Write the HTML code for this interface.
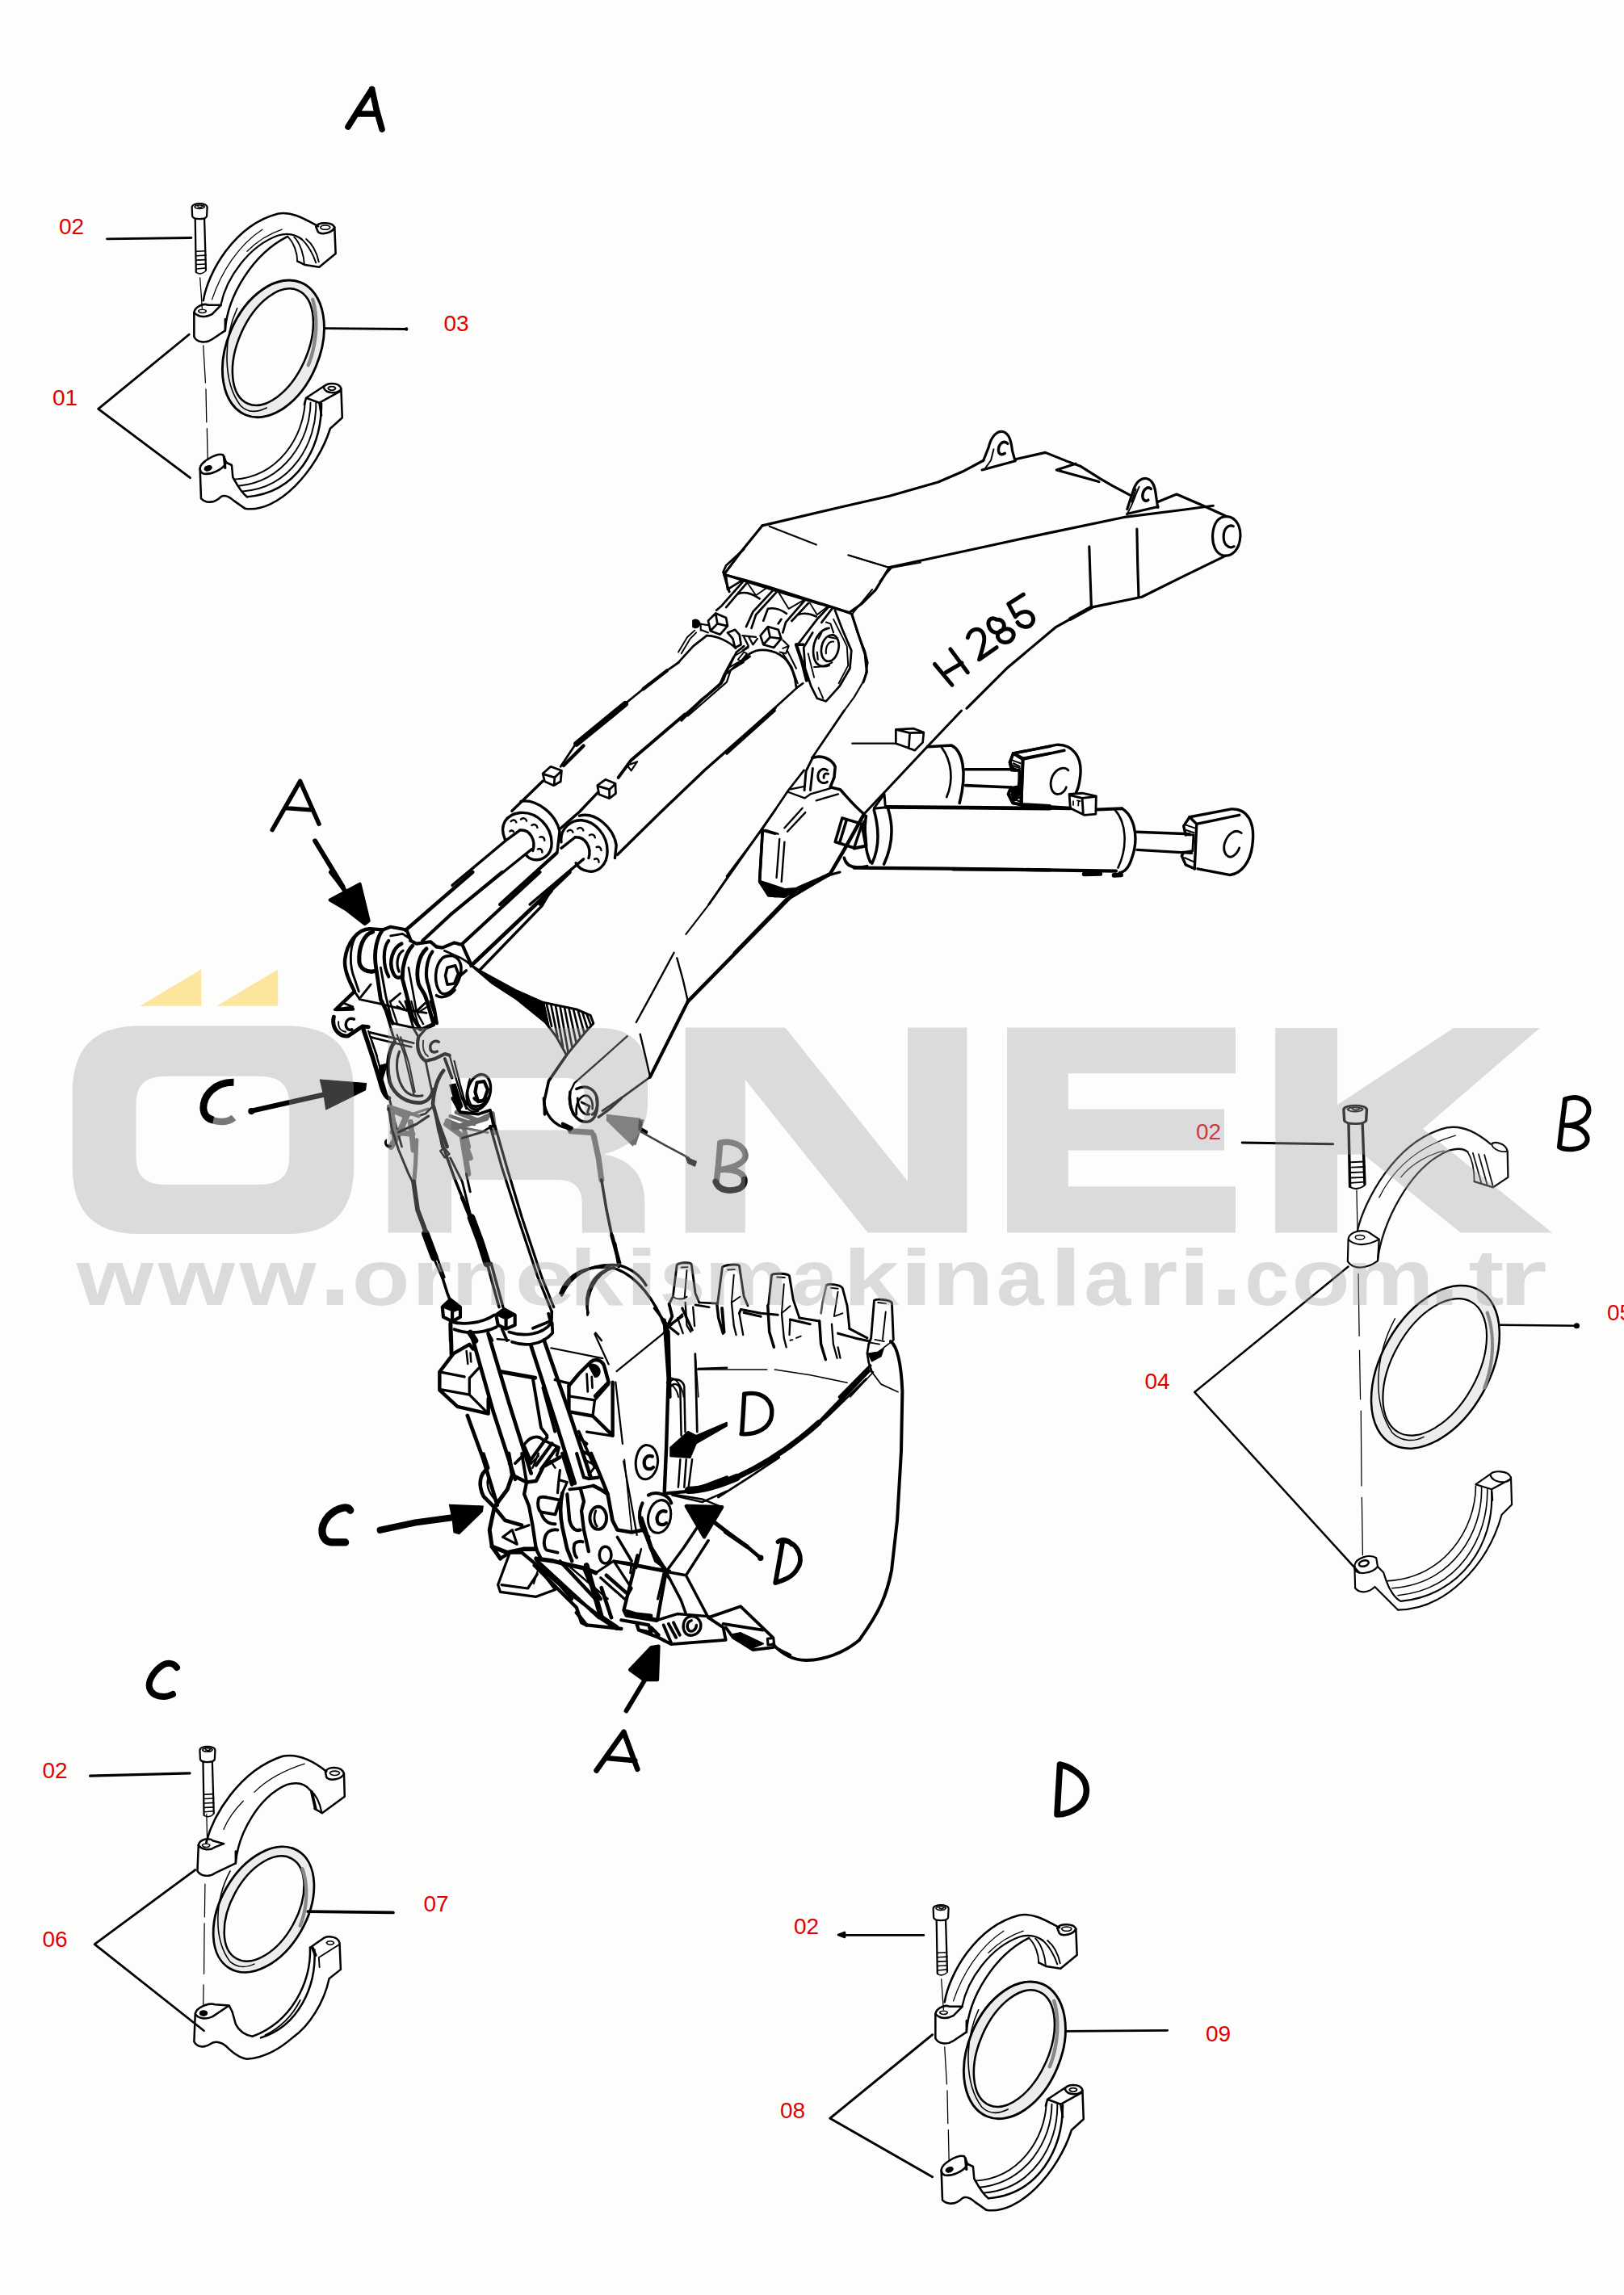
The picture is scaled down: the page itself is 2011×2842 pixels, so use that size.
<!DOCTYPE html>
<html><head><meta charset="utf-8"><title>H285</title>
<style>
html,body{margin:0;padding:0;background:#fdfefc;}
body{width:2011px;height:2842px;overflow:hidden;position:relative;font-family:"Liberation Sans",sans-serif;}
svg{position:absolute;left:0;top:0;display:block}
.ln{fill:none;stroke:#000;stroke-linecap:round;stroke-linejoin:round}
.lbl{font-family:"Liberation Sans",sans-serif;font-size:28px;fill:#e10000}
.wm{font-family:"Liberation Sans",sans-serif;font-weight:bold;font-size:98.7px}
</style></head><body>
<svg width="2011" height="2842" viewBox="0 0 2011 2842">
<rect x="0" y="0" width="2011" height="2842" fill="#fdfefc"/>
<!-- T1: boom top. coords in zoom space of region [860,500]-[1560,900] scale 2.32 -->
<g class="ln" transform="translate(860,500) scale(0.43103)" stroke-width="7.3">
<!-- top face upper edge -->
<path d="M195,350 L420,297 L560,265 L700,225 L770,195 L830,163"/>
<path d="M830,163 L845,125 C852,95 868,78 885,80 C905,84 910,110 913,135 L920,160"/>
<path d="M826,190 L922,164"/>
<path d="M899.6,114.4 C885.6,102.4 871.6,118.4 873.6,136.4 C875.6,148.4 885.6,146.4 891.6,142.4" stroke-width="8"/>
<path d="M859.6,130.4 L851.6,162.4 L831.6,190.4" stroke-width="4.5"/>
<path d="M920,160 L1008,140 L1070,165 L1110,180 L1165,215 L1200,235 L1250,262"/>
<path d="M1095,172 L1040,190 L1162,224"/>
<!-- lug 2 -->
<path d="M1243,303 L1262,245 C1270,222 1285,212 1300,215 C1320,220 1324,245 1326,265 L1331,298"/>
<path d="M1243,316 L1332,296"/>
<path d="M1311.6,244.4 C1299.6,234.4 1285.6,250.4 1287.6,268.4 C1289.6,280.4 1299.6,280.4 1303.6,276.4" stroke-width="8"/>
<path d="M1277.6,238.4 C1265.6,262.4 1261.6,286.4 1241.6,318.4 M1268,245 L1256,282" stroke-width="4.5"/>
<path d="M1331,282 L1385,260 L1455,290 L1525,322"/>
<!-- end boss -->
<path d="M1520,325 C1548,318 1570,345 1568,382 C1566,418 1545,440 1520,436 C1498,432 1486,405 1489,372 C1492,345 1504,329 1520,325 Z"/>
<path d="M1548,352 C1535,345 1520,358 1520,382 C1520,405 1535,418 1550,410" stroke-width="7.3"/>
<!-- top face lower edge -->
<path d="M560,470 L800,418 L1000,375 L1240,325 L1400,305 L1490,293"/>
<!-- side face bottom edge -->
<path d="M1525,437 L1400,498 L1285,555 L1140,585 L1039,641 L896,761 L782,875"/>
<path d="M1140,585 L1080,618" stroke-width="11"/>
<path d="M1134,410 L1137,500 L1140,582"/>
<path d="M1271,360 L1273,460 L1276,555"/>
<!-- left end -->
<path d="M195,350 L130,430 L85,490"/>
<path d="M85,490 L260,545 L445,600"/>
<path d="M560,470 L520,535 L480,575 L445,600"/>
<path d="M215,352 L350,405" stroke-width="4.9"/>
<path d="M442,435 L556,470" stroke-width="4.9"/>
<path d="M85,490 L95,525 L100,540" />
<!-- side plate front edge -->
<path d="M452,605 L470,660 L490,720 L495,770 L485,800"/>
<!-- H 285 text drawn as strokes -->
<g stroke-width="11.5">
<path d="M690,748 L740,808 M735,705 L785,772 M722,772 L768,745"/>
<path d="M785,672 C790,650 812,640 826,655 C840,672 828,700 818,735 L868,700"/>
<path d="M868,620 C850,610 838,625 848,645 C858,662 878,660 885,650 C896,634 884,618 868,620 Z M885,650 C905,640 922,655 915,672 C906,690 880,690 872,672 C868,660 876,652 885,650 Z"/>
<path d="M945,548 L902,575 L922,612 C935,595 960,592 970,608 C980,626 965,645 945,640 C935,638 930,632 928,628"/>
</g>
</g>
<!-- T2: boom front clevis. region [840,680] scale 5.413 -->
<g class="ln" transform="translate(840,680) scale(0.18473)" stroke-width="14.6">
<path d="M440,0 L320,110 L300,155 L315,175"/>
<path d="M315,172 L440,205 L600,250 L850,330 L1040,390 L1165,435"/>
<path d="M1165,435 L1300,270 M1350,215 L1430,125 L1624,90 M1140,40 L1420,125" stroke-width="10.1"/>
<path d="M1165,435 L1200,560 L1250,680 L1270,760 L1250,870 L1180,990 L1100,1100 L1020,1218" stroke-width="11.2"/>
<!-- ribs -->
<path d="M320,180 L330,270 L430,208 M440,210 L290,380 L255,410 M458,228 L320,390"/>
<path d="M462,225 L520,310 L600,255" stroke-width="10.1"/>
<path d="M640,270 L500,420 L455,520 M655,292 L520,440 L490,530"/>
<path d="M400,300 C440,285 480,290 545,332"/>
<path d="M672,290 L740,400 L850,336" stroke-width="10.1"/>
<path d="M850,340 L720,490 L700,560 M872,362 L760,482"/>
<path d="M600,400 C640,390 680,400 725,432 M600,400 L570,480 M690,470 L670,500"/>
<path d="M1010,385 L930,470 L800,640 M1030,400 L960,492"/>
<path d="M882,362 L930,440 L1000,386" stroke-width="10.1"/>
<path d="M800,440 C840,425 880,430 925,452"/>
<!-- lug plate -->
<path d="M1050,410 L1100,540 L1160,680 L1150,800 L1080,920 L990,1020 L930,1000 L890,920 L850,800 L840,660 L900,560"/>
<path d="M1040,470 L1130,650 L1138,780 L1075,900" stroke-width="10.1"/>
<path d="M870,700 L910,860 M940,930 L970,1000" stroke-width="10.1"/>
<!-- pin -->
<path d="M1010,530 C940,540 900,620 905,700 C910,770 950,800 1010,780"/>
<path d="M1030,575 C985,580 955,630 958,690 C962,740 995,765 1030,745 C1070,720 1085,650 1070,610 C1062,588 1048,576 1030,575 Z"/>
<path d="M1040,620 C1010,615 985,650 990,700 M990,490 L1020,500 L1040,560 M1010,590 L1060,600" stroke-width="11.2"/>
<path d="M930,690 L935,740 M960,560 L940,600 M910,790 C950,790 1000,780 1030,760" stroke-width="11.2"/>
<!-- heavy edge between cylinder 2 and plate -->
<path d="M790,640 L830,760 L860,880" stroke-width="22.4"/>
<path d="M800,640 L840,640" stroke-width="17.9"/>
<!-- nuts -->
<path d="M200,480 L250,430 L320,460 L330,515 L280,572 L215,548 Z M250,432 L262,500 L215,548 M262,500 L328,515"/>
<path d="M330,560 L380,540 L410,575 L420,640 L380,660 M330,560 L365,600 L380,660"/>
<path d="M550,580 L600,520 L670,540 L690,600 L640,660 L570,640 Z M600,522 L615,590 L570,640 M615,590 L688,600"/>
<path d="M700,610 L740,650 L720,700 L680,690 M740,650 L700,665" stroke-width="11.2"/>
<path d="M100,480 C120,470 140,480 140,500 C140,520 120,530 100,520 Z" fill="#000"/>
<path d="M140,500 L200,510 M150,540 L200,560 M150,500 L150,545" stroke-width="11.2"/>
<!-- cylinder 1 end + pipe -->
<path d="M190,580 C260,580 340,620 385,665"/>
<path d="M0,760 L100,650 L190,580"/>
<path d="M0,690 L60,590 L110,545 M20,700 L80,600 L120,560" stroke-width="10.1"/>
<path d="M440,590 L470,650 L430,680 M470,585 L500,640 L530,600 M430,580 L520,590" stroke-width="12.3"/>
<path d="M20,1150 L150,1020 L290,900 L320,830 L390,690 L440,650"/>
<path d="M45,1110 L160,1000 L270,920 L300,850 L370,720 L470,660" stroke-width="10.1"/>
<path d="M400,740 L440,690 L460,700 L420,750 Z" stroke-width="10.1"/>
<!-- cylinder 2 end -->
<path d="M480,700 C540,660 640,670 710,730 C760,780 785,860 790,925"/>
<path d="M480,700 L330,830 M380,790 L480,720" />
<path d="M480,1215 L640,1070 L800,925 L835,900"/>
<path d="M700,700 L760,790 L800,900 M730,680 L790,800" stroke-width="11.2"/>
</g>
<!-- T3: upper cylinders. region [560,820] scale 4.06 -->
<g class="ln" transform="translate(560,820) scale(0.24631)" stroke-width="13.8">
<!-- cyl1 top edge w/ pipe -->
<path d="M1140,0 L1080,42 L960,135 L880,200 L620,412 L545,525" stroke-width="11.2"/>
<path d="M1080,42 L960,135" stroke-width="17.5"/>
<path d="M870,210 L625,410" stroke-width="30"/>
<path d="M660,420 L560,520" stroke-width="17.5"/>
<path d="M455,560 L495,525 L550,545 L545,600 L510,620 L465,600 Z M465,565 L515,580 L548,548 M515,580 L512,618" stroke-width="11.2"/>
<path d="M455,598 L360,690 L300,748"/>
<!-- gland 1 -->
<path d="M345,700 C420,685 520,760 540,850 L528,955"/>
<path d="M265,890 C235,820 270,765 340,757 C430,750 500,830 500,910 C500,970 450,1005 400,990 C385,985 375,975 370,965"/>
<path d="M340,845 C390,838 422,895 405,948"/>
<path d="M0,1122 L265,900 L340,845 M55,1218 L400,940"/>
<path d="M295,800 C305,790 318,792 322,805 M345,790 C355,780 370,784 374,798 M400,820 C412,812 426,818 428,832 M440,880 C452,874 464,882 464,896 M430,940 C442,934 454,942 452,956 M290,850 C296,845 304,846 308,852" stroke-width="10"/>
<!-- between -->
<path d="M525,960 L240,1218" stroke-width="17.5"/>
<!-- cyl2 top edge w/ pipe -->
<path d="M1440,0 L1385,30 L1365,90 L1170,262 M1465,0 L1400,40 L1380,100 L1185,270" stroke-width="8.8"/>
<path d="M1170,262 L900,492 L835,580" stroke-width="16.2"/>
<path d="M880,520 L930,500 L900,545 Z" stroke-width="8.8"/>
<path d="M730,620 L770,590 L820,610 L822,660 L790,685 L738,665 Z M738,625 L790,640 L820,612 M790,640 L790,684" stroke-width="11.2"/>
<path d="M730,657 L640,752 L545,835"/>
<!-- gland 2 -->
<path d="M640,772 C720,752 810,830 825,920 L818,985"/>
<path d="M548,905 C540,835 600,792 650,795 C720,800 780,870 780,950 C780,1020 730,1062 680,1050 C650,1045 632,1030 622,1010"/>
<path d="M618,880 C668,876 702,930 686,985"/>
<path d="M618,880 L548,935 M390,1218 L660,990 M440,1218 L500,1150"/>
<path d="M580,850 C590,840 603,842 607,855 M630,838 C640,828 655,832 659,846 M690,870 C702,862 716,868 718,882 M725,930 C737,924 749,932 749,946 M715,990 C727,984 739,992 737,1006" stroke-width="10"/>
<!-- cyl2 bottom edge -->
<path d="M1624,230 L1270,542 L1050,752 L830,968"/>
<!-- boom edge -->
<path d="M1624,742 L1450,990 L1290,1218" stroke-width="11.2"/>
<path d="M1624,862 L1560,845 L1552,980 L1545,1100 L1600,1172" />
<path d="M1548,1100 L1624,1130 L1624,1180 L1598,1170 Z" fill="#000" stroke-width="7.5"/>
</g>
<!-- T4: boom mid / lug / box / lower cylinders. region [900,880] scale 4.06 -->
<g class="ln" transform="translate(900,880) scale(0.24631)" stroke-width="14.4">
<path d="M240,0 L0,215"/>
<path d="M590,0 L430,235 M388,300 L310,400 L175,600 L0,832" stroke-width="10.8"/>
<path d="M1180,0 L1000,190 L690,520" stroke-width="12"/>
<path d="M690,520 L590,700 L520,820 L300,950 L40,1218" stroke-width="18"/>
<!-- lug -->
<path d="M430,238 C465,222 525,235 545,282 L540,335 L520,385 L570,397 C610,440 640,480 690,520"/>
<path d="M430,240 L398,305 L390,400 M432,290 L420,400" stroke-width="12"/>
<path d="M505,300 C485,285 458,300 458,330 C458,360 485,372 505,358 M510,318 C495,312 485,322 488,338" stroke-width="12"/>
<path d="M305,408 L392,440 L420,420 L522,390 M450,452 L560,420 M320,395 L385,382" stroke-width="9.6"/>
<!-- box -->
<path d="M195,600 L258,620" stroke-width="9.6"/>
<path d="M180,600 L172,740 L165,860 L210,925 L290,930 L360,890 L520,820"/>
<path d="M265,645 L250,840 M290,660 L275,860 M290,590 L380,490 M305,608 L395,512" stroke-width="9.6"/>
<path d="M165,860 L210,930 L290,935 L360,895 L290,900 L200,870 Z" fill="#000"/>
<!-- small block -->
<path d="M580,540 L680,570 L640,690 L545,660 Z M602,550 L566,668"/>
<path d="M680,572 L700,680 L640,692 M700,680 L690,560" stroke-width="16.8"/>
<!-- cyl 3 (lower) -->
<path d="M800,485 L1200,488 L1624,492" stroke-width="19.2"/>
<path d="M640,790 L1100,794 L1624,802" stroke-width="16.8"/>
<path d="M700,530 C690,600 692,700 722,762 M740,500 C762,580 772,680 730,768 M810,490 C832,560 842,660 790,772"/>
<path d="M590,740 C600,782 640,797 705,782"/>
<path d="M740,492 L800,486 M740,490 L792,420 L797,482" stroke-width="12"/>
<!-- cyl 4 (upper) -->
<path d="M630,165 L850,165" stroke-width="8.4"/>
<path d="M850,95 L940,90 L990,110 L985,160 L945,200 L905,185 L850,165 Z M920,112 L915,190 M850,95 L920,112 L990,110" stroke-width="10.8"/>
<path d="M1010,182 L1130,175 C1182,200 1212,300 1170,465"/>
<path d="M1080,185 C1130,250 1142,350 1105,435" stroke-width="10.8"/>
<path d="M1200,295 L1440,295 M1200,376 L1430,386"/>
<path d="M1624,180 L1440,215 L1425,260 L1440,300 L1470,300 L1480,470 L1440,465 L1415,420 L1430,386"/>
<path d="M1624,215 L1490,240 L1440,215 M1490,240 L1480,470 L1624,478"/>
<path d="M1440,265 L1472,280 M1435,285 L1470,300 M1425,420 L1475,440 M1435,445 L1478,458" stroke-width="8.4"/>
</g>
<!-- T5: right cylinder ends. region [1180,880] scale 4.06 -->
<g class="ln" transform="translate(1180,880) scale(0.24631)" stroke-width="13.8">
<!-- upper eye block -->
<path d="M303,215 L520,172 C600,168 652,230 640,330 C636,370 628,395 620,410"/>
<path d="M345,475 L590,490" stroke-width="16.1"/>
<path d="M350,245 L345,475 M350,245 L303,215 M350,245 L560,200"/>
<path d="M303,215 L285,260 L295,300 M345,475 L300,465 L278,420 L290,388"/>
<path d="M580,300 C560,278 520,290 500,330 C480,380 500,422 530,420 C550,420 565,400 570,385" stroke-width="11.5"/>
<path d="M300,250 L340,265 M298,275 L338,290" stroke-width="8"/>
<path d="M290,388 L330,380 L335,300 L295,300" stroke-width="11.5"/>
<path d="M290,390 L330,382 L332,440 L300,462 Z" fill="#000" stroke-width="4.6"/>
<!-- small fitting -->
<path d="M585,420 L650,415 L720,430 L718,520 L660,525 L590,490 Z M650,440 L655,522 M585,425 L650,440 L720,432" stroke-width="11.5"/>
<path d="M605,455 L605,475 M625,452 L640,455 M632,455 L630,478" stroke-width="6.9"/>
<!-- lower cyl end -->
<path d="M480,490 L590,492 M725,497 L850,492" stroke-width="16.1"/>
<path d="M850,492 C900,520 942,620 900,740 C885,790 860,812 838,815"/>
<path d="M815,500 C870,560 882,680 830,790" stroke-width="10.3"/>
<path d="M0,797 L400,800 L820,806" stroke-width="17.2"/>
<path d="M660,822 L740,820 M810,828 L845,826" stroke-width="23"/>
<path d="M925,610 L1190,620 M925,700 L1200,716"/>
<!-- eye block 2 -->
<path d="M1190,535 L1400,495 C1480,492 1522,560 1505,680 C1495,760 1450,822 1390,826 L1230,795"/>
<path d="M1225,570 L1215,795 M1225,570 L1190,535 M1225,570 L1440,525"/>
<path d="M1190,535 L1160,580 L1170,625 M1215,795 L1170,775 L1150,730 L1160,712"/>
<path d="M1450,615 C1420,590 1380,620 1365,670 C1355,720 1385,747 1410,730 C1425,720 1435,705 1440,690" stroke-width="11.5"/>
<path d="M1172,575 L1215,590 M1170,600 L1212,614 M1165,740 L1210,760" stroke-width="8"/>
<path d="M1160,712 L1205,705 L1210,625 L1170,625" stroke-width="11.5"/>
</g>
<!-- T6: boom lower. region [640,1080] scale 4.06 -->
<g class="ln" transform="translate(640,1080) scale(0.24631)" stroke-width="14.4">
<path d="M1400,100 L1130,375 L860,650" stroke-width="18"/>
<path d="M860,650 L760,850 L670,1030" stroke-width="16.8"/>
<path d="M670,1030 L540,1125 L430,1200" stroke-width="10.8"/>
<path d="M1420,85 L1580,12 L1624,0" stroke-width="12"/>
<path d="M1075,0 L960,170 L850,312" stroke-width="8.4"/>
<path d="M790,405 L690,590 L600,755 M805,432 L835,540 L860,650 M620,815 L645,920 L670,1030" stroke-width="9.6"/>
<path d="M555,825 L420,945 L290,1060 L268,1105" stroke-width="9.6"/>
<!-- black plate -->
<path d="M0,595 L135,655 L160,770 L0,640 Z" fill="#000" stroke-width="7.2"/>
<path d="M135,655 L300,690 L370,720 L385,760 L340,810 L250,920 L200,830 L140,750" stroke-width="12"/>
<g stroke-width="10.8">
<path d="M150,665 L175,775 M172,668 L205,830 M195,672 L232,880 M218,678 L258,905 M240,682 L278,880 M262,686 L298,855 M285,692 L318,830 M308,698 L338,805 M330,706 L355,785 M352,716 L372,768"/>
</g>
<path d="M250,920 L160,1050 L138,1150 L140,1218"/>
<!-- pivot -->
<path d="M268,1105 C262,1140 268,1180 285,1218 M300,1090 C350,1065 400,1090 405,1150 C408,1185 395,1210 380,1218"/>
<path d="M300,1218 C295,1180 305,1140 335,1125 C365,1115 385,1150 380,1190" stroke-width="10.8"/>
</g>
<!-- T7: linkage head. region [400,1080] scale 4.06 -->
<g class="ln" transform="translate(400,1080) scale(0.24631)" stroke-width="16.9">
<!-- arrow A -->
<path d="M35,140 L185,60 L230,245 L210,260 L120,190 Z" fill="#000"/>
<path d="M40,0 L75,45 L115,100" stroke-width="23.4"/>
<!-- arrow C head -->
<!-- rods -->
<path d="M415,292 L752,0" stroke-width="18.2"/>
<path d="M500,345 L640,215 L900,0"/>
<path d="M700,360 L1090,0"/>
<path d="M745,470 L1140,95 L1240,0" stroke-width="19.5"/>
<path d="M790,490 L1100,170 L1150,85" stroke-width="14.3"/>
<!-- plate 1 -->
<path d="M235,285 C175,285 120,355 110,440 C105,500 140,560 158,600 L65,690 L150,688" stroke-width="18.2"/>
<path d="M160,330 C135,380 130,470 160,540 L180,600" stroke-width="11.7"/>
<path d="M250,300 C205,310 178,380 182,450 C186,490 225,505 255,498" stroke-width="20.8"/>
<path d="M158,600 L185,640 L290,662 M240,565 L190,628" stroke-width="11.7"/>
<!-- plate 2 -->
<path d="M235,285 L300,290 L340,275 L420,290 L440,340"/>
<path d="M300,290 C270,330 255,400 265,470 L290,640 L350,760" stroke-width="19.5"/>
<path d="M330,345 C300,380 300,470 330,525"/>
<path d="M290,480 L315,620 L345,745" stroke-width="11.7"/>
<path d="M340,320 L400,310 L430,330" stroke-width="11.7"/>
<!-- ring -->
<path d="M395,360 C350,380 330,450 350,500 C360,530 380,540 400,520" stroke-width="18.2"/>
<path d="M402,395 C375,410 365,460 382,500" stroke-width="13"/>
<!-- plate 3 -->
<path d="M450,370 C420,400 395,470 400,540 L450,730 L490,790" stroke-width="19.5"/>
<path d="M440,345 L470,360 L540,350 L570,375"/>
<path d="M520,385 C480,420 465,500 480,560 C490,590 510,600 520,640 L555,760" stroke-width="19.5"/>
<path d="M550,400 C520,440 510,520 530,570 L560,690 L572,760"/>
<path d="M430,480 L470,700" stroke-width="10.4"/>
<!-- plate 4 + hex pin -->
<path d="M570,375 L600,380 L660,355 L700,365 L745,465"/>
<path d="M600,432 C560,470 555,560 590,605 C620,630 670,590 690,520 C705,460 680,420 640,420 C625,420 610,425 600,432 Z" stroke-width="14.3"/>
<path d="M625,480 L665,470 L680,510 L660,560 L625,565 L615,520 Z" stroke-width="14.3"/>
<path d="M570,620 C600,640 640,620 662,592 M690,520 L720,495" stroke-width="14.3"/>
<path d="M610,395 L690,430 L740,460" stroke-width="10.4"/>
<!-- black wedge -->
<path d="M720,450 L790,495 L974,595 L1109,655 L1134,770 L974,640 L850,560 Z" fill="#000" stroke-width="7.8"/>
<!-- cross bracing -->
<path d="M290,662 L400,690 L520,708 M340,650 L388,610 M470,700 L512,660 M350,760 L490,790 L555,760" stroke-width="11.7"/>
</g>
<!-- T16: under linkage head. region [400,1240] scale 6.767 -->
<g class="ln" transform="translate(400,1240) scale(0.14778)" stroke-width="28.6">
<path d="M90,130 C70,220 130,300 210,290 L330,210 L380,215" stroke-width="33.8"/>
<path d="M130,170 C125,220 150,250 190,255" stroke-width="13"/>
<path d="M260,150 C215,130 180,170 195,215 C205,245 235,240 242,235" stroke-width="23.4"/>
<path d="M95,70 L250,45 L160,10" stroke-width="18.2"/>
<path d="M340,240 L420,480 L480,680 C500,760 520,800 552,812" stroke-width="36.4"/>
<path d="M380,250 L450,460 L500,640" stroke-width="15.6"/>
<path d="M470,540 L540,520 L500,650 L545,800 L480,700 Z" fill="#000" stroke-width="7.8"/>
<path d="M390,260 L560,300 L760,350 M400,300 L560,340 L740,382" stroke-width="18.2"/>
<path d="M410,330 L455,460" stroke-width="13"/>
<path d="M500,0 L560,200 L600,330 M690,0 L760,230 L800,300" stroke-width="19.5"/>
<path d="M560,0 L620,180 M740,0 L800,200 M620,40 L700,80 L640,0 M880,40 L790,100 L840,190" stroke-width="15.6"/>
<path d="M900,0 L940,120 L930,200 L860,230 L800,300" stroke-width="22.1"/>
<path d="M600,340 C540,420 530,560 560,680 C600,790 700,850 800,850 C870,850 910,800 922,740" stroke-width="31.2"/>
<path d="M640,420 C600,520 620,660 680,740 C720,790 780,800 832,790" stroke-width="20.8"/>
<path d="M620,280 L680,440 L760,780 M650,300 L720,520 L770,760" stroke-width="14.3"/>
<path d="M800,300 C780,380 800,460 860,500 L940,480 L1020,440 L1060,452" stroke-width="28.6"/>
<path d="M970,340 C930,320 890,350 900,400 C905,430 940,430 957,420" stroke-width="23.4"/>
<path d="M840,330 C830,400 850,440 880,460" stroke-width="13"/>
<path d="M1010,580 C960,640 930,740 920,860 L960,1000 L1040,1218" stroke-width="31.2"/>
<path d="M860,500 C880,600 900,700 920,780" stroke-width="18.2"/>
<path d="M1060,452 L1100,600 L1160,800 L1200,900 M1100,500 L1150,700 L1200,880 C1220,920 1260,932 1300,920" stroke-width="15.6"/>
<path d="M1020,480 L1080,640" stroke-width="26"/>
<path d="M1060,700 L1110,690 L1170,880 L1130,930 Z" fill="#000" stroke-width="7.8"/>
<ellipse cx="1305" cy="760" rx="95" ry="150" transform="rotate(15 1305 760)" stroke-width="23.4"/>
<path d="M1230,650 C1200,720 1210,820 1250,880" stroke-width="13"/>
<path d="M1290,680 L1350,670 L1380,740 L1350,830 L1300,840 L1275,760 Z" stroke-width="28.6"/>
<g stroke="#6a6a6a">
<path d="M560,900 L700,960 L640,1100 L570,1218" stroke-width="52"/>
<path d="M1120,930 L1300,1000 L1420,940 L1440,1100" stroke-width="39"/>
<path d="M1040,1000 L1180,1060 L1220,1218" stroke-width="39"/>
<path d="M700,960 L880,900 M1180,1060 L1380,1100" stroke-width="20.8"/>
</g>
<path d="M560,830 L600,1000 L660,1218 M920,880 L860,940 L800,960" stroke-width="18.2"/>
<path d="M960,1000 L1000,1218" stroke-width="26"/>
<path d="M530,1160 C520,1190 535,1210 550,1205" stroke-width="11.7"/>
</g>
<!-- T8: bucket cylinders. region [400,1360] scale 4.06 -->
<g class="ln" transform="translate(400,1360) scale(0.24631)" stroke-width="16.9">
<!-- dithered blobs -->
<g stroke="#6a6a6a" stroke-width="28.6">
<path d="M345,70 L360,200 M440,120 L455,260 M350,170 L450,180"/>
<path d="M620,130 L700,190 L740,300 M660,150 L820,100 M700,200 L730,380"/>
<path d="M1245,165 L1350,172 M1360,185 L1385,300 L1400,410"/>
<path d="M330,40 L480,90 M640,90 L760,130" stroke-width="18.2"/>
</g>
<path d="M1430,90 L1610,110 L1570,232 L1480,160 Z" fill="#6a6a6a" stroke="#6a6a6a" stroke-width="7.8"/>
<path d="M1590,150 L1624,170" stroke-width="18.2"/>
<!-- cyl A -->
<path d="M330,50 L345,150 L380,260 L430,380 L455,430" stroke-width="11.7"/>
<path d="M470,210 L465,330 L458,420" stroke="#6a6a6a" stroke-width="20.8"/>
<path d="M455,420 L475,560 L520,680" stroke-width="23.4"/>
<path d="M515,680 L560,800" stroke-width="39"/>
<path d="M555,800 L600,905 M570,790 L610,900" stroke-width="11.7"/>
<path d="M600,900 L625,980 L640,1020" stroke-width="14.3"/>
<path d="M315,215 C310,235 325,250 340,240" stroke-width="10.4"/>
<path d="M380,170 L470,130 L530,90" stroke-width="13"/>
<!-- cyl B -->
<path d="M560,50 L580,160 L610,260 L660,400 L700,500" stroke-width="14.3"/>
<path d="M640,300 L700,420 L745,600 M720,380 L740,470" stroke-width="11.7"/>
<path d="M700,500 L745,610" stroke-width="20.8"/>
<path d="M745,600 L790,720 L825,830" stroke-width="39"/>
<path d="M825,830 L860,960 L885,1050 M845,830 L905,1050" stroke-width="14.3"/>
<path d="M590,265 L610,250 L635,280 L612,298 Z" stroke-width="10.4"/>
<path d="M700,200 L800,170 L850,140" stroke-width="11.7"/>
<!-- right double edge -->
<path d="M840,140 L900,350 L980,600 L1080,900 L1150,1072 M865,140 L925,350 L1000,600 L1100,900 L1160,1050" stroke-width="13"/>
<path d="M1150,1072 L1148,1130 C1100,1190 1010,1200 935,1175 M1152,1130 L1154,1180 C1100,1240 1020,1250 950,1225" stroke-width="15"/>
<!-- top hex pin bottom -->
<path d="M700,0 C730,50 800,60 830,0 M650,0 L690,70 L780,80 L840,60 L860,140" stroke-width="15.6"/>
<path d="M760,0 C775,20 800,20 815,0" stroke-width="15.6"/>
<!-- boom end pivot -->
<path d="M1110,0 C1110,80 1160,140 1235,152" stroke-width="14.3"/>
<path d="M1205,128 L1250,150 L1240,160 Z" fill="#000"/>
<path d="M1240,0 C1240,70 1280,125 1330,118 C1375,110 1385,50 1375,0" stroke-width="14.3"/>
<path d="M1280,0 C1280,50 1310,90 1340,80 M1300,20 L1340,40 L1330,70" stroke-width="11.7"/>
<path d="M1500,0 L1440,55 L1385,95" stroke-width="13"/>
<path d="M1400,410 L1425,560 L1452,690" stroke-width="14.3"/>
<path d="M1452,690 L1490,830" stroke-width="19.5"/>
<!-- bucket top arcs -->
<path d="M1200,990 C1250,880 1350,830 1490,840 C1560,860 1600,900 1624,940" stroke-width="14.3"/>
<path d="M1330,1090 C1320,980 1370,880 1462,850" stroke-width="11.7"/>
<path d="M1370,1180 L1400,1218" stroke-width="10.4"/>
<!-- nuts and heads -->
<path d="M600,1050 L640,1012 L690,1050 L690,1100 L650,1122 L605,1100 Z M640,1015 L650,1070 L690,1052 M650,1070 L650,1120" stroke-width="16.9"/>
<path d="M600,1050 L640,1012 L690,1050 L650,1070 Z" fill="#000" stroke-width="5.2"/>
<path d="M640,1122 C700,1142 800,1132 860,1090 M660,1162 C740,1192 830,1172 872,1150" stroke-width="15.6"/>
<path d="M870,1090 L910,1060 L965,1090 L965,1140 L920,1160 L880,1140 Z M920,1110 L920,1160" stroke-width="16.9"/>
<path d="M870,1090 L910,1060 L965,1090 L920,1112 Z" fill="#000" stroke-width="5.2"/>
<path d="M640,1130 L640,1218 M830,1180 L850,1218 M900,1160 L925,1218" stroke-width="15.6"/>
<path d="M740,1180 L765,1218" stroke-width="31.2"/>
</g>
<!-- T9: lower linkage. region [500,1620] scale 4.06 -->
<g class="ln" transform="translate(500,1620) scale(0.24631)" stroke-width="17.9">
<!-- cylinder heads (in T8) -->
<path d="M235,80 L238,160 L240,232" stroke-width="20.2"/>
<!-- rod 1 -->
<path d="M345,150 L450,520 L560,860" stroke-width="19"/>
<path d="M425,130 L530,480 L640,830" stroke-width="19"/>
<!-- rod 2 -->
<path d="M640,190 L760,560 L860,880" stroke-width="19"/>
<path d="M705,160 L830,520 L940,850" stroke-width="19"/>
<!-- left block -->
<path d="M180,320 L250,228 L330,182 L348,205 M180,320 L180,412 L270,495 L425,530 L425,455"/>
<path d="M180,320 L305,345 M190,410 L330,435 L330,352 L378,300 M330,435 L425,530" stroke-width="13.4"/>
<path d="M315,215 L322,280 M335,225 L338,270" stroke-width="10.1"/>
<path d="M320,540 L400,760 L470,990" stroke-width="19"/>
<!-- cross members -->
<path d="M490,320 L575,335 L660,350" stroke-width="20.2"/>
<path d="M470,155 L530,160" stroke-width="10.1"/>
<path d="M650,360 L690,600 L720,640 M700,400 L760,620" stroke-width="15.7"/>
<!-- right block with pivot -->
<path d="M830,390 L880,330 L940,270 C962,250 1002,260 1010,300 L1030,372 L962,442"/>
<path d="M930,290 C940,275 975,280 985,310 C990,330 975,350 960,345 Z" fill="#000" stroke-width="6.7"/>
<path d="M920,330 L925,420 M945,345 L948,400" stroke-width="11.2"/>
<path d="M830,390 L830,520 L950,542 L1050,640 L1050,372"/>
<path d="M830,442 L960,462 L1030,382 M960,462 L950,542 M920,622 L1050,642" stroke-width="13.4"/>
<path d="M760,360 L840,380" stroke-width="13.4"/>
<!-- thin plate lines -->
<path d="M960,130 L1030,282 M740,200 L1000,252 M1065,372 L1100,682 M1070,317 L1300,130 L1400,30 M1105,770 L1140,960 L1172,1140 M920,0 L925,30" stroke-width="9"/>
<!-- big vertical -->
<path d="M1260,0 L1330,90 L1400,40 M1330,90 L1380,130 M1400,0 L1450,110" stroke-width="13.4"/>
<path d="M1310,60 L1330,350 L1320,700 L1310,932" stroke-width="17.9"/>
<path d="M1600,0 L1610,120" stroke-width="15.7"/>
<path d="M1465,230 L1470,420 L1475,622 M1480,305 L1624,300" stroke-width="11.2"/>
<path d="M1340,372 C1342,350 1400,350 1410,392 L1415,622 M1345,390 C1360,375 1385,380 1390,410 L1395,640" stroke-width="10.1"/>
<path d="M1340,700 L1430,620 L1470,640 L1624,575 L1624,592 L1470,680 L1440,752 L1340,745 Z" fill="#000" stroke-width="6.7"/>
<path d="M1390,760 L1380,900 M1420,760 L1410,900 M1450,760 L1430,912" stroke-width="10.1"/>
<path d="M1310,932 L1440,920 L1624,850" stroke-width="16.8"/>
<path d="M1350,940 L1500,975 L1624,920" stroke-width="10.1"/>
<!-- pin c -->
<path d="M1215,688 C1170,700 1155,780 1175,830 C1195,875 1245,870 1270,810 C1290,750 1265,685 1215,688 Z" stroke-width="12.3"/>
<path d="M1250,745 C1222,735 1200,760 1212,795 C1222,815 1245,810 1255,800" stroke-width="17"/>
<!-- pin c2 -->
<path d="M1200,980 C1170,1040 1190,1120 1232,1150 M1230,940 C1260,920 1330,930 1345,980" stroke-width="16.8"/>
<path d="M1290,965 C1240,975 1215,1050 1235,1100 C1255,1145 1310,1140 1335,1080 C1355,1020 1335,960 1290,965 Z" stroke-width="12.3"/>
<path d="M1318,1022 C1290,1012 1265,1040 1276,1075 C1286,1095 1310,1090 1320,1080" stroke-width="17"/>
<!-- arrow D2 -->
<path d="M1420,995 L1600,1000 L1510,1150 Z" fill="#000"/>
<path d="M1560,1075 L1624,1125" stroke-width="20.2"/>
<path d="M1345,935 L1500,960 L1600,1000" stroke-width="10.1"/>
<!-- arrow C -->
<!-- coil -->
<path d="M610,680 C640,640 680,640 700,662 M605,690 L640,770" stroke-width="15"/>
<path d="M640,760 L720,650 M665,790 L745,680 M690,810 L770,700" stroke-width="17"/>
<path d="M600,700 L640,780 M700,662 L780,700 L770,740" stroke-width="15"/>
<path d="M530,780 L540,800 M560,780 L600,740 M880,620 L960,800 M880,650 L920,682 M900,720 L950,747" stroke-width="15"/>
</g>
<!-- T18: dense lower linkage. region [590,1800] scale 6.767 -->
<g class="ln" transform="translate(590,1800) scale(0.14778)" stroke-width="31.2">
<path d="M90,130 C30,170 10,260 60,360 L150,450"/>
<path d="M100,200 C80,260 100,320 150,380" stroke-width="16.8"/>
<circle cx="20" cy="470" r="34" fill="#000" stroke="none"/>
<path d="M60,0 L100,120" stroke-width="24"/>
<path d="M270,0 L300,180 L260,300 L200,380 L150,450 L110,640 L130,780 L200,880" stroke-width="33.6"/>
<path d="M150,450 L240,560 L380,600"/>
<path d="M300,180 L420,240 L500,230 L560,110 L700,30"/>
<path d="M380,0 L420,240" stroke-width="26.4"/>
<path d="M460,80 L520,20 M520,0 L470,120 M620,60 L660,120" stroke-width="16.8"/>
<path d="M420,240 L400,340 L440,440 L470,600 L500,800 L540,880" stroke-width="28.8"/>
<path d="M520,380 C530,360 560,360 600,370 L700,390 L660,510 L540,490 C515,470 510,420 520,380 Z" stroke-width="26.4"/>
<path d="M540,490 C560,560 600,590 660,590" stroke-width="26.4"/>
<path d="M700,390 L720,330 L760,240 L690,220 L680,330 M690,220 L700,140" stroke-width="21.6"/>
<path d="M720,330 C700,420 700,520 720,620 L760,800 L800,900"/>
<path d="M760,340 L780,560 C800,640 840,650 870,640" stroke-width="28.8"/>
<path d="M780,300 L870,290 L980,270" stroke-width="26.4"/>
<path d="M870,290 L900,400 L880,480 L900,640 L940,820" stroke-width="28.8"/>
<path d="M980,270 L1040,300 L1100,340 L1140,560 L1180,640 L1300,660 L1400,640"/>
<path d="M720,0 L800,260"/>
<path d="M840,0 L900,200 L940,210 L1020,200" stroke-width="28.8"/>
<path d="M920,60 L1000,100 L940,180" stroke-width="19.2"/>
<path d="M960,0 L1040,190 L1100,340"/>
<ellipse cx="1020" cy="540" rx="70" ry="95" stroke-width="26.4"/>
<path d="M1000,480 C980,520 985,580 1010,610" stroke-width="19.2"/>
<path d="M570,720 C580,660 620,630 680,640 M570,720 C560,760 575,800 590,810 L680,830" stroke-width="26.4"/>
<path d="M820,760 C830,740 870,730 890,740 M820,760 C810,800 820,850 840,870" stroke-width="26.4"/>
<ellipse cx="1080" cy="850" rx="50" ry="70" stroke-width="24"/>
<path d="M130,780 L260,830 L400,800 L500,800" stroke-width="36"/>
<path d="M200,880 L280,830 L380,830 L500,930 L700,1100 L800,1218" stroke-width="28.8"/>
<path d="M500,880 L640,900 L760,930 L900,960 L1000,1000" stroke-width="36"/>
<path d="M220,700 L300,640 L340,760 Z M330,640 L440,600" stroke-width="21.6"/>
<path d="M280,830 L180,1100 L200,1160 L500,1200 L660,1140 L500,930 M210,1100 L430,1130 L510,1010" stroke-width="21.6"/>
<path d="M480,1090 L520,960" stroke-width="14.4"/>
<path d="M700,900 L1000,1218" stroke-width="26.4"/>
<path d="M760,930 L1100,1218" stroke-width="16.8"/>
<path d="M900,960 L960,1100 L1040,1218"/>
<path d="M1000,1000 L1150,900 L1300,920 L1290,1000" stroke-width="19.2"/>
<path d="M1040,1040 L1240,1218 M1150,900 L1300,1130 L1250,1218 M1580,960 L1520,1218" stroke-width="21.6"/>
<path d="M1300,920 L1500,960 L1624,980" stroke-width="14.4"/>
<path d="M1180,700 L1300,900 M1400,640 L1500,900 L1580,960" stroke-width="24"/>
<path d="M1380,800 L1340,960 M1580,1010 L1624,1060" stroke-width="16.8"/>
<path d="M1240,50 L1270,340 L1300,640" stroke-width="12"/>
</g>
<!-- T10: bucket top. region [660,1540] scale 3.248 -->
<g class="ln" transform="translate(660,1540) scale(0.30788)" stroke-width="13.8">
<path d="M110,200 C140,120 220,80 330,100 C420,130 490,230 530,330" stroke-width="11"/>
<path d="M222,280 C200,200 240,120 312,100" stroke-width="10"/>
<path d="M330,0 L345,92 M0,340 L70,312 L62,282" stroke-width="12.5"/>
<!-- inner curve -->
<path d="M1350,512 L1150,720" stroke-width="15"/>
<path d="M1150,720 C1050,810 950,880 820,940" stroke-width="22.5"/>
<path d="M820,940 C750,970 690,990 625,992" stroke-width="30"/>
<path d="M1340,545 L1180,700 L1060,800 M990,860 L870,940 L745,1020" stroke-width="8.8"/>
<!-- panel lines -->
<!-- D letter -->
<path d="M850,605 L845,690 L840,765 M850,605 C930,590 967,640 960,690 C955,740 900,772 838,765" stroke-width="17.5"/>
<!-- arrow shaft continuing -->
<path d="M775,1160 L860,1218" stroke-width="17.5"/>
<path d="M985,1200 C1000,1185 1030,1190 1040,1210" stroke-width="17.5"/>
</g>
<!-- T17: teeth. region [820,1550] scale 5.239 -->
<g class="ln" transform="translate(820,1550) scale(0.19088)" stroke-width="15">
<!-- tooth 1 -->
<path d="M95,88 C105,70 180,66 190,82 M95,88 L70,290 L45,340 M190,82 L215,270 L240,330"/>
<path d="M160,120 L145,300 M125,102 L165,100" stroke-width="10"/>
<path d="M70,290 C90,312 140,312 160,292" stroke-width="10"/>
<path d="M45,340 L65,420 L30,490" stroke-width="20"/>
<path d="M100,430 L135,530 M150,330 L160,480 L185,520 M200,360 L210,482" stroke-width="12"/>
<!-- tooth 2 -->
<path d="M390,102 C400,84 490,78 500,92 M390,102 L360,330 M500,92 L530,290 L555,350"/>
<path d="M465,150 L450,330 L505,292 M425,118 L470,115" stroke-width="10"/>
<path d="M355,340 L365,430 L395,530" stroke-width="18"/>
<path d="M450,330 L465,480 L480,540 M500,400 L525,540" stroke-width="12"/>
<path d="M215,345 L305,360 M240,330 L360,336" stroke-width="14"/>
<path d="M510,375 L640,400 L750,410 M500,400 L510,375 M530,395 L640,420" stroke-width="16"/>
<!-- tooth 3 -->
<path d="M710,152 C720,138 815,140 825,157 M710,152 L690,340 M825,157 L850,310 L890,430"/>
<path d="M790,210 L775,400 L830,352 M745,165 L795,168" stroke-width="10"/>
<path d="M685,350 L695,520 L725,620" stroke-width="18"/>
<path d="M775,400 L790,560 L805,620 M830,440 L825,540" stroke-width="12"/>
<path d="M830,440 L960,470 M890,430 L1020,450" stroke-width="16"/>
<path d="M870,560 L900,548 M830,575 L845,572" stroke-width="10"/>
<!-- tooth 4 -->
<path d="M1065,218 C1080,205 1160,215 1170,237 M1170,237 L1200,350 L1215,500"/>
<path d="M1065,218 L1040,330 L1030,400" stroke="#555" stroke-width="14"/>
<path d="M1140,260 L1115,420 L1170,400 M1095,235 L1140,240" stroke-width="10"/>
<path d="M1020,450 L1030,600 L1060,700" stroke-width="18"/>
<path d="M1100,470 L1110,600 L1135,690 M1140,620 L1155,690" stroke-width="12"/>
<path d="M1140,530 L1250,560 L1340,580 M1215,500 L1330,560" stroke-width="16"/>
<!-- tooth 5 -->
<path d="M1375,317 C1390,303 1480,312 1490,332 M1375,317 L1355,560 L1340,600 M1490,332 L1500,572"/>
<path d="M1450,390 L1430,570 M1400,330 L1450,336" stroke-width="10"/>
<path d="M1350,590 L1410,600 M1380,570 L1440,582" stroke-width="9"/>
<!-- corner -->
<path d="M1340,600 L1330,660 L1340,720 L1360,780" stroke-width="14"/>
<path d="M1335,660 L1400,650 L1440,620 L1420,680 L1360,712 Z" fill="#000" stroke-width="6"/>
<path d="M1500,575 L1440,620 M1360,780 L1420,860 L1530,910" stroke-width="9"/>
<path d="M1350,740 L1150,943" stroke-width="20"/>
<path d="M1370,780 L1220,943" stroke-width="8"/>
<!-- left edge and panel lines -->
<path d="M0,440 L40,520 L45,720 L50,943" stroke-width="22"/>
<path d="M215,665 L225,800 L235,943 M230,765 L680,765 M730,765 L960,800 L1200,850" stroke-width="8"/>
<path d="M60,820 C100,830 130,880 140,943 M30,850 C70,860 100,900 105,943" stroke-width="10"/>
</g>
<!-- T11: bucket lower. region [560,1880] scale 3.248 -->
<g class="ln" transform="translate(560,1880) scale(0.30788)" stroke-width="13.8">
<path d="M340,170 L470,290 L590,400 M330,190 L500,360 L520,420 L540,430 L680,445 M440,180 L580,330 M470,300 L580,385" stroke-width="14"/>
<path d="M540,190 L600,400 L660,440" stroke-width="22"/>
<path d="M600,280 L640,400 M620,230 L700,300 M500,380 L540,430" stroke-width="15"/>
<!-- central block -->
<path d="M745,150 L690,370 L825,410 L860,215 M690,370 L700,392 L822,412 M700,380 L800,392"/>
<path d="M650,175 L860,215 L940,230 L1030,90 M860,215 L930,120 L990,30 M940,230 L1030,400 M860,215 L920,330 L940,385 M825,410 L905,385 L1030,395" stroke-width="11.2"/>
<path d="M760,0 L800,120 L860,215" stroke-width="17.5"/>
<!-- lower bits -->
<path d="M680,410 L740,420 L750,450 L830,480 L852,492 M740,420 L790,430 L800,460 L750,450 M800,440 L830,470"/>
<path d="M960,395 C930,398 920,440 940,465 C962,482 1000,465 1000,430 C998,408 982,393 960,395 Z M962,412 C945,415 940,440 952,452 C965,460 982,448 982,430" stroke-width="11.2"/>
<path d="M852,492 L880,507 L1100,490 L1090,440 L1030,400 M850,430 L880,500 M870,425 L900,480 M890,420 L915,470" stroke-width="12.5"/>
<!-- right wedge -->
<path d="M1030,400 L1160,355 L1290,480 M1100,440 L1130,480 L1210,530 L1290,520 M1090,425 L1250,450" stroke-width="12.5"/>
<path d="M1120,470 L1160,462 L1250,505 L1210,520 Z" fill="#000" stroke-width="7.5"/>
<path d="M1268,485 L1292,482 L1295,508 L1270,510 Z" stroke-width="10"/>
<!-- bucket bottom curve -->
<path d="M1300,520 L1360,550" stroke-width="10"/>
<!-- arrow D shaft + dot -->
<path d="M1050,14 L1185,114 L1240,160" stroke-width="15"/>
<circle cx="1240" cy="160" r="12" fill="#000" stroke="none"/>
<!-- D letter -->
<path d="M1330,90 L1315,175 L1300,260 M1330,90 C1400,100 1412,170 1390,200 C1370,240 1330,250 1300,260" stroke-width="18.8"/>
<!-- arrow A -->
<path d="M830,515 L825,650 L770,650 L715,610 L800,520 Z" fill="#000"/>
<path d="M775,650 L700,775" stroke-width="18.8"/>
<path d="M690,860 L580,1015 M690,860 L745,1010 M620,965 L735,975" stroke-width="21.2"/>
</g>
<!-- bucket right edge + bottom (source coords) -->
<g class="ln" stroke-width="4">
<path d="M1103,1661 C1112,1668 1116,1690 1117.4,1723 L1116,1797 L1111,1883 L1104,1945 C1098,1975 1090,1995 1064,2031 C1045,2047 1020,2056 998,2056 C985,2056 970,2050 957,2036"/>
</g>
<!-- T12: letter A + arrow shaft. region [230,960] scale 4.06 -->
<g class="ln" transform="translate(230,960) scale(0.24631)" stroke-width="22">
<path d="M575,30 L435,275 M575,30 L670,245 M500,165 L640,175"/>
<path d="M650,330 L790,560" stroke-width="24"/>
</g>
<!-- T13: letter C + arrow. region [230,1300] scale 5.413 -->
<g class="ln" transform="translate(230,1300) scale(0.18473)">
<path d="M150,452 C200,492 280,492 322,455" stroke="#777" stroke-width="46" stroke-linecap="butt"/>
<path d="M322,218 C200,215 120,300 118,390 C120,440 150,465 185,472" stroke-width="48" stroke-linecap="butt"/>
<path d="M440,410 L930,300" stroke-width="34"/>
<circle cx="440" cy="412" r="22" fill="#000" stroke="none"/>
<path d="M900,200 L1210,225 L1205,270 L940,400 L930,330 Z" fill="#000" stroke-width="6"/>
</g>
<!-- T14: arrow B + letter B. region [720,1360] scale 5.413 -->
<g class="ln" transform="translate(720,1360) scale(0.18473)">
<path d="M170,110 L390,135 L410,160 L400,210 L345,320 L170,150 Z" fill="#707070" stroke="#707070" stroke-width="6"/>
<path d="M385,140 L410,160 L400,215 L380,215 Z" fill="#222" stroke="none"/>
<path d="M400,225 L560,315 L720,400" stroke="#444" stroke-width="14"/>
<path d="M700,395 L770,425 L760,455 L715,435 Z" fill="#111" stroke="#111" stroke-width="8"/>
<g stroke="#707070" stroke-width="40">
<path d="M930,300 L918,440 L905,560"/>
<path d="M930,300 C1000,280 1090,310 1100,380 C1100,440 1000,470 930,480"/>
<path d="M930,480 C1020,470 1100,500 1092,560"/>
</g>
<path d="M900,560 C920,620 1000,630 1060,605 C1085,590 1095,570 1092,545" stroke="#111" stroke-width="42"/>
</g>
<!-- T15: lower letter C + arrow. region [370,1820] scale 5.413 -->
<g class="ln" transform="translate(370,1820) scale(0.18473)">
<path d="M345,272 C330,240 260,250 200,310 C130,390 150,480 220,487 L312,487" stroke-width="50"/>
<path d="M545,405 L780,355 L1020,322" stroke-width="44"/>
<path d="M1010,235 L1235,245 L1230,280 L1075,430 L1040,420 L1030,330 Z" fill="#000" stroke-width="8"/>
</g>
<!-- Detail A clamp assembly; coords in zoom space of [100,230] scale 3.691 -->
<defs>
<g id="bolt" class="ln" stroke-width="8.3">
<path d="M508,98 C508,76 578,76 578,98 L576,140 C570,156 516,156 510,140 Z"/>
<path d="M520,96 C525,86 560,86 566,96 C560,108 525,108 520,96 Z M535,95 C540,100 550,100 555,95" stroke-width="5.9"/>
<path d="M523,152 L527,395 M565,152 L572,385"/>
<path d="M530,300 L570,298 M530,320 L572,318 M530,340 L572,338 M530,360 L572,358 M530,380 L572,376 M528,396 C540,406 560,403 572,388" stroke-width="5.9"/>
</g>
<g id="clamp_upper" class="ln" stroke-width="9.4">
<path d="M560,525 C580,400 700,180 900,128 C960,115 1020,150 1085,185"/>
<path d="M640,545 C665,420 770,275 900,228 C950,212 985,225 1010,245" stroke-width="8.3"/>
<path d="M660,662 C670,500 790,310 945,232"/>
<path d="M600,520 C640,400 720,270 830,200 M760,300 C800,260 860,220 920,200" stroke-width="4.7"/>
<path d="M518,580 C520,555 560,535 580,545 L640,545"/>
<path d="M518,580 L518,690 C530,716 570,722 600,702 L660,662 L660,610"/>
<path d="M518,580 C540,602 570,602 600,587 L640,547"/>
<path d="M538,573 C540,563 570,563 573,573 C570,584 542,584 538,573 Z" stroke-width="5.9"/>
<path d="M1075,187 C1085,165 1150,165 1160,190 L1165,310 L1090,372 L1025,362 L990,345"/>
<path d="M1160,190 C1150,216 1100,226 1085,212 L1075,187"/>
<path d="M1095,190 C1100,178 1135,178 1140,190 C1135,204 1100,204 1095,190 Z" stroke-width="5.9"/>
<path d="M945,232 C975,260 990,310 990,345 M975,234 C1005,265 1020,320 1022,360 M1005,240 C1040,270 1065,320 1075,352 M1030,244 C1060,268 1080,312 1088,348" stroke-width="7.1"/>
</g>
<g id="ringA" class="ln">
<ellipse cx="880" cy="745" rx="211" ry="328" transform="rotate(22.8 880 745)" stroke-width="10.6" style="fill:#ececec"/>
<ellipse cx="878" cy="737" rx="158" ry="283" transform="rotate(24 878 737)" stroke-width="9.4" style="fill:#fdfefc"/>
<path d="M715,560 C650,700 650,900 730,1005 C760,1035 800,1040 850,1015" stroke-width="5.9"/>
<path d="M1060,520 C1085,600 1080,720 1040,820" stroke="#888" stroke-width="16.5" stroke-dasharray="3 5"/>
</g>
<g id="clamp_lower" class="ln" stroke-width="9.4">
<path d="M545,1290 C550,1262 620,1220 650,1230 L665,1265 C650,1300 590,1322 560,1316 C550,1312 545,1300 545,1290 Z"/>
<ellipse cx="582" cy="1291" rx="17" ry="11" transform="rotate(-20 582 1291)" fill="#000" stroke-width="4.7"/>
<path d="M545,1295 L550,1430 C570,1452 610,1452 640,1422 C660,1410 680,1422 700,1440 L750,1475"/>
<path d="M750,1475 C900,1500 1080,1300 1140,1110 L1195,1060 L1190,930"/>
<path d="M1110,922 C1115,900 1180,895 1190,927 C1185,950 1120,955 1110,922 Z"/>
<path d="M1130,925 C1135,915 1160,915 1165,925 C1160,938 1135,938 1130,925 Z" stroke-width="5.9"/>
<path d="M1030,970 L1110,917 M1030,970 L1022,1000 M1030,970 L1090,992 L1185,940 M1090,992 L1100,1050"/>
<path d="M1025,985 C1020,1150 900,1330 700,1342 M1050,992 C1050,1160 930,1352 720,1372 M1075,990 C1080,1180 960,1380 740,1397" stroke-width="7.1"/>
<path d="M1100,995 C1100,1200 990,1402 760,1422" stroke-width="9.4"/>
<path d="M665,1265 L690,1277 L695,1332 C705,1350 730,1400 760,1422"/>
<path d="M655,1240 L660,1290" stroke-width="11.8"/>
</g>
<g id="centerline" class="ln" stroke-width="4.7">
<path d="M545,420 L555,560 M560,730 L570,900 M572,930 L575,1080 M577,1110 L580,1250"/>
</g>
</defs>
<g transform="translate(100,230) scale(0.27094)">
<use href="#bolt"/><use href="#clamp_upper"/><use href="#ringA"/><use href="#clamp_lower"/><use href="#centerline"/>
<g class="ln" stroke-width="10.6">
<path d="M120,243 L505,238"/>
<path d="M1115,652 L1490,655"/>
<circle cx="1488" cy="655" r="8" fill="#000" stroke="none"/>
<path d="M495,680 L80,1020 L500,1335"/>
</g>
</g>
<text class="lbl" x="73" y="290">02</text>
<text class="lbl" x="549.5" y="409.5">03</text>
<text class="lbl" x="65" y="502">01</text>
<!-- Detail D = copy of A geometry -->
<g transform="translate(1018,2337) scale(0.27094)">
<use href="#bolt"/><use href="#clamp_upper"/><use href="#ringA"/><use href="#clamp_lower"/><use href="#centerline"/>
</g>
<g class="ln" stroke-width="2.6">
<path d="M1040,2396.4 L1143.9,2396.4"/>
<path d="M1038,2396 L1046,2393 L1046,2399 Z" fill="#000"/>
<path d="M1320,2515.4 L1445.7,2514.3" stroke-width="2.8"/>
<path d="M1154.6,2519.6 L1027.9,2623.2 L1154.6,2695.7" stroke-width="3"/>
</g>
<text class="lbl" x="983" y="2394.6">02</text>
<text class="lbl" x="1493" y="2527.5">09</text>
<text class="lbl" x="966" y="2623.2">08</text>
<!-- Detail C; coords in zoom space of [90,2130] scale 3.691 -->
<g transform="translate(90,2130) scale(0.27094)">
<use href="#bolt" transform="translate(73,40)"/>
<g class="ln" stroke-width="9.2">
<path d="M80,255 L535,243" stroke-width="12.6"/>
<path d="M612,430 L615,560 M605,750 L603,900 M602,930 L600,1160 M598,1210 L597,1300" stroke-width="4.6"/>
<!-- upper clamp -->
<path d="M610,560 C640,440 760,230 960,165 C1040,150 1110,195 1160,235"/>
<path d="M745,655 C755,520 850,350 980,295 C1030,280 1065,295 1085,320"/>
<path d="M830,330 C880,280 950,235 1060,200 M690,500 C710,450 740,410 780,370" stroke-width="4.6"/>
<path d="M575,572 C580,545 625,535 642,552 L690,565"/>
<path d="M575,572 L570,690 C585,716 625,718 650,700 L745,655 L745,600"/>
<path d="M575,572 C590,596 630,596 648,582 L690,565"/>
<path d="M592,573 C594,563 624,563 627,573 C624,584 596,584 592,573 Z" stroke-width="5.8"/>
<path d="M1155,237 C1165,210 1230,210 1240,245 L1243,350 L1140,425 L1105,405"/>
<path d="M1240,245 C1230,272 1175,280 1160,262 L1155,237"/>
<path d="M1175,242 C1180,230 1215,230 1220,242 C1215,256 1180,256 1175,242 Z" stroke-width="5.8"/>
<path d="M1085,320 C1110,340 1130,380 1138,422" stroke-width="8"/>
<path d="M1092,328 L1110,405" stroke-width="13.8"/>
<!-- ring -->
<ellipse cx="873" cy="866" rx="197" ry="311" transform="rotate(29.7 873 866)" stroke-width="10.3" style="fill:#ececec"/>
<ellipse cx="875" cy="862" rx="151" ry="261" transform="rotate(28.8 875 862)" stroke-width="9.2" style="fill:#fdfefc"/>
<path d="M720,690 C650,820 640,1000 720,1105 C750,1130 790,1135 830,1115" stroke-width="5.8"/>
<path d="M1050,680 C1075,750 1075,850 1040,940" stroke="#888" stroke-width="16.1" stroke-dasharray="3 5"/>
<!-- leaders -->
<path d="M1075,875 L1465,880" stroke-width="13.8"/>
<path d="M560,685 L100,1025 L600,1420" stroke-width="10.3"/>
<!-- lower clamp -->
<path d="M560,1342 C565,1315 620,1290 650,1300 L715,1305 L730,1335 M560,1342 C570,1365 610,1370 640,1355 L715,1305"/>
<ellipse cx="598" cy="1340" rx="17" ry="12" fill="#000" stroke-width="4.6"/>
<path d="M560,1345 L555,1470 C570,1496 600,1500 630,1480 C650,1466 680,1470 700,1490"/>
<path d="M730,1335 L745,1390 C760,1420 790,1440 822,1446"/>
<path d="M1085,1040 C1090,1200 1000,1380 822,1446 M1105,1050 C1115,1220 1030,1400 860,1452"/>
<path d="M1095,1040 L1110,1075" stroke-width="13.8"/>
<path d="M1085,1040 L1150,995 C1170,985 1215,990 1220,1020 L1225,1140 L1172,1182 C1150,1290 1080,1400 1007,1450 C950,1500 880,1545 796,1549 C760,1545 730,1520 700,1490"/>
<path d="M1125,1085 L1220,1025 M1125,1085 L1128,1130 M1040,1280 C1010,1340 960,1400 880,1440" stroke-width="6.9"/>
<path d="M1160,1018 C1165,1008 1190,1008 1194,1018 C1190,1030 1165,1030 1160,1018 Z" stroke-width="5.8"/>
</g>
</g>
<text class="lbl" x="52.5" y="2202">02</text>
<text class="lbl" x="524.5" y="2367">07</text>
<text class="lbl" x="52.5" y="2410.5">06</text>
<!-- Detail B; coords in zoom space of [1431,1340] scale 2.8 -->
<g transform="translate(1431,1340) scale(0.35714)">
<use href="#bolt" transform="translate(71.4,7.8) scale(1.143,0.9)"/>
<g class="ln" stroke-width="6">
<path d="M300,210 L615,215" stroke-width="8"/>
<path d="M697,375 L700,510 M703,665 L706,880 M707,930 L710,1100 M712,1140 L714,1400 M715,1440 L718,1640" stroke-width="3.5"/>
<!-- upper clamp -->
<g stroke="#111" stroke-width="6.5">
<path d="M700,515 C720,420 830,200 1010,158 C1070,148 1120,180 1162,215"/>
<path d="M770,620 C780,500 880,290 1020,236 C1050,228 1070,232 1082,242"/>
<path d="M775,400 C820,310 900,225 1040,185 M850,330 C890,280 950,250 1000,238" stroke-width="3.5"/>
<path d="M1165,215 C1175,203 1215,213 1220,240 L1222,330 L1170,365 L1105,345"/>
<path d="M1082,242 C1100,270 1105,310 1105,345 M1100,246 L1130,352 M1120,250 L1150,357 M1140,252 L1170,362" stroke-width="5"/>
<path d="M1165,215 C1170,235 1200,245 1220,240" stroke-width="5"/>
</g>
<path d="M668,545 C670,520 720,505 745,525 L775,545 M668,545 L666,622 C685,650 730,650 770,620 L775,545 M668,545 C690,570 735,568 775,545"/>
<path d="M692,538 C694,528 722,528 725,538 C722,548 695,548 692,538 Z" stroke-width="4"/>
<!-- ring -->
<ellipse cx="970" cy="988" rx="187" ry="307" transform="rotate(29.6 970 988)" stroke-width="7" style="fill:#ececec"/>
<ellipse cx="968" cy="988" rx="147" ry="259" transform="rotate(29.2 968 988)" stroke-width="6" style="fill:#fdfefc"/>
<path d="M830,820 C760,950 750,1110 820,1215 C850,1245 890,1250 930,1230" stroke-width="4"/>
<path d="M1150,800 C1175,870 1175,970 1140,1060" stroke="#888" stroke-width="12" stroke-dasharray="3 5"/>
<!-- leaders -->
<path d="M1195,842 L1460,845" stroke-width="7"/>
<circle cx="1460" cy="845" r="10" fill="#000" stroke="none"/>
<path d="M668,640 L135,1075 L705,1700" stroke-width="7"/>
<!-- lower clamp -->
<path d="M690,1675 C695,1650 740,1635 765,1650 L770,1680 C750,1705 700,1710 690,1690 Z"/>
<ellipse cx="722" cy="1669" rx="17" ry="10" transform="rotate(-15 722 1669)" stroke-width="7"/>
<path d="M690,1680 L692,1755 C710,1775 740,1770 760,1750 L800,1790 L840,1830"/>
<path d="M840,1830 C1000,1830 1150,1680 1200,1500 L1235,1465 L1232,1370"/>
<path d="M1160,1362 C1165,1345 1225,1345 1232,1372 C1225,1395 1170,1392 1160,1362 Z M1110,1395 L1160,1360 M1110,1395 L1165,1412 L1230,1377 M1165,1412 L1168,1450"/>
<path d="M1110,1400 C1110,1550 1000,1720 800,1730 M1130,1405 C1135,1560 1030,1740 820,1755 M1150,1410 C1155,1580 1050,1760 840,1780" stroke-width="4.5"/>
<path d="M1165,1420 C1175,1600 1060,1780 850,1800 M770,1680 L790,1700 L800,1730 C810,1760 830,1790 850,1800"/>
<!-- B letter -->
<path d="M1420,60 L1410,140 L1400,225 M1420,60 C1470,40 1512,70 1500,110 C1490,140 1450,150 1420,150 C1480,150 1512,190 1490,215 C1470,237 1420,237 1400,225" stroke-width="17"/>
</g>
</g>
<text class="lbl" x="1481" y="1411.4">02</text>
<text class="lbl" x="1990" y="1634.6">05</text>
<text class="lbl" x="1417.5" y="1720.4">04</text>
<!-- section titles -->
<g class="ln" stroke-width="7.6">
<path d="M460.6,110.5 L446,133 L431,157 M460.6,110.5 L466,135 L473,160 M444,141 L467,141"/>
<path d="M219,2065 C215,2059 207,2058 200,2063 C190,2070 183,2082 185,2090 C187,2098 195,2101 203,2101 C208,2101 212,2099 214,2098" stroke-width="8"/>
<path d="M1312.5,2185 L1309,2246 M1312.5,2185 C1325,2188 1338,2196 1343,2206 C1348,2218 1345,2230 1335,2238 C1327,2244 1318,2247 1309,2247"/>
</g>
<!-- watermark overlay -->
<g fill="#fdd04e" fill-opacity="0.55">
<path d="M173.4,1245.8 L249.1,1245.8 L249.1,1200.4 Z"/>
<path d="M268.3,1245.8 L344.1,1245.8 L344.1,1200.4 Z"/>
</g>
<g fill="#a09ea5" fill-opacity="0.37">
<!-- O -->
<path fill-rule="evenodd" d="M172,1270.4 H356 C412,1270.4 438.2,1298 438.2,1354 V1444 C438.2,1500 412,1528 356,1528 H172 C116,1528 89.7,1500 89.7,1444 V1354 C89.7,1298 116,1270.4 172,1270.4 Z
M206,1332.7 H320 C347,1332.7 358.2,1344 358.2,1368 V1432 C358.2,1456 347,1467 320,1467 H206 C179,1467 168.5,1456 168.5,1432 V1368 C168.5,1344 179,1332.7 206,1332.7 Z"/>
<!-- R -->
<path fill-rule="evenodd" d="M480.6,1272.9 H742 Q802,1272.9 802,1333 V1365 C802,1395 790,1418 747.7,1429.3 C782,1436 798.4,1455 798.4,1490 V1526.6 H720.8 V1490 Q720.8,1461 690,1461 H559 V1526.6 H480.6 Z
M559,1335 H700 Q724,1335 724,1358 V1377 Q724,1399.5 700,1399.5 H559 Z"/>
<!-- N -->
<path d="M848.7,1272.6 H972.4 L1124,1462.8 V1272.6 H1197.4 V1526.6 H1074.6 L922.8,1337 V1526.6 H848.7 Z"/>
<!-- E -->
<path d="M1247,1272.6 H1530 V1329.2 H1322.8 V1373.6 H1516 V1424.5 H1322.8 V1469.3 H1530 V1526.6 H1247 Z"/>
<!-- K -->
<path d="M1579.2,1272.9 H1656.1 V1368.2 L1800.1,1272.9 H1906.8 L1762,1397.8 L1922.1,1526.6 H1808.8 L1688.6,1429.8 H1656.1 V1526.6 H1579.2 Z"/>
<g class="wm">
<text transform="translate(94.8,1616.2) scale(1.243,1.000)">w</text>
<text transform="translate(195.8,1616.2) scale(1.240,1.000)">w</text>
<text transform="translate(296.6,1616.2) scale(1.240,1.000)">w</text>
<text transform="translate(395.1,1616.2) scale(1.451,1.292)">.</text>
<text transform="translate(435.7,1616.2) scale(1.192,1.000)">o</text>
<text transform="translate(509.5,1616.2) scale(1.299,1.000)">r</text>
<text transform="translate(559.1,1616.2) scale(1.217,1.000)">n</text>
<text transform="translate(637.2,1616.2) scale(1.374,1.000)">e</text>
<text transform="translate(705.4,1616.2) scale(1.211,1.000)">k</text>
<text transform="translate(773.1,1616.2) scale(1.575,1.000)">i</text>
<text transform="translate(817.0,1616.2) scale(1.024,1.000)">s</text>
<text transform="translate(872.4,1616.2) scale(1.172,1.000)">m</text>
<text transform="translate(979.5,1616.2) scale(1.055,1.000)">a</text>
<text transform="translate(1044.3,1616.2) scale(1.261,1.000)">k</text>
<text transform="translate(1113.2,1616.2) scale(1.568,1.000)">i</text>
<text transform="translate(1154.6,1616.2) scale(1.261,1.000)">n</text>
<text transform="translate(1234.0,1616.2) scale(1.064,1.000)">a</text>
<text transform="translate(1299.3,1616.2) scale(1.501,1.000)">l</text>
<text transform="translate(1342.5,1616.2) scale(1.055,1.000)">a</text>
<text transform="translate(1409.5,1616.2) scale(1.273,1.000)">r</text>
<text transform="translate(1458.5,1616.2) scale(1.501,1.000)">i</text>
<text transform="translate(1499.1,1616.2) scale(1.451,1.292)">.</text>
<text transform="translate(1541.4,1616.2) scale(0.992,1.000)">c</text>
<text transform="translate(1599.4,1616.2) scale(1.198,1.000)">o</text>
<text transform="translate(1666.9,1616.2) scale(1.238,1.000)">m</text>
<text transform="translate(1769.6,1616.2) scale(1.401,1.292)">.</text>
<text transform="translate(1818.4,1616.2) scale(1.344,1.000)">t</text>
<text transform="translate(1855.1,1616.2) scale(1.586,1.000)">r</text>
</g>
</g>
</svg>
</body></html>
